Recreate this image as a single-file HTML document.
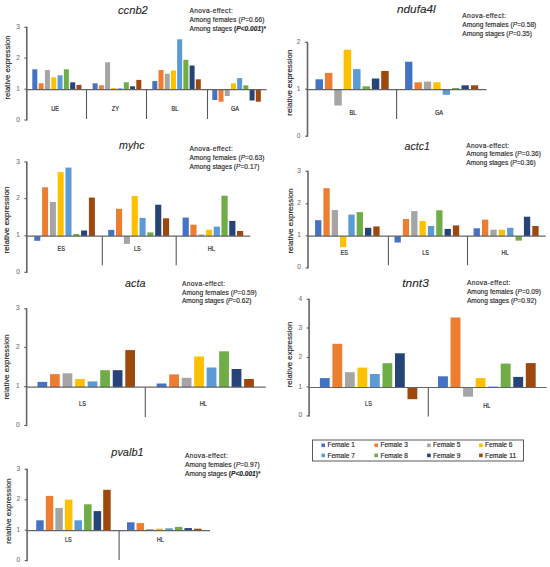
<!DOCTYPE html>
<html><head><meta charset="utf-8"><style>
html,body{margin:0;padding:0;background:#fff;}
svg{display:block;font-family:"Liberation Sans",sans-serif;}
</style></head><body>
<svg width="550" height="567" viewBox="0 0 550 567">
<rect width="550" height="567" fill="#fff"/>
<line x1="26.80" y1="26.70" x2="26.80" y2="120.60" stroke="#666666" stroke-width="1.6"/>
<line x1="24.40" y1="120.00" x2="26.80" y2="120.00" stroke="#666666" stroke-width="1.2"/>
<text x="19.80" y="121.50" font-size="6.6" fill="#7a7a7a" text-anchor="end"  stroke="#7a7a7a" stroke-width="0.12">0</text>
<line x1="24.40" y1="89.20" x2="26.80" y2="89.20" stroke="#666666" stroke-width="1.2"/>
<text x="19.80" y="90.70" font-size="6.6" fill="#7a7a7a" text-anchor="end"  stroke="#7a7a7a" stroke-width="0.12">1</text>
<line x1="24.40" y1="58.10" x2="26.80" y2="58.10" stroke="#666666" stroke-width="1.2"/>
<text x="19.80" y="59.60" font-size="6.6" fill="#7a7a7a" text-anchor="end"  stroke="#7a7a7a" stroke-width="0.12">2</text>
<line x1="24.40" y1="27.30" x2="26.80" y2="27.30" stroke="#666666" stroke-width="1.2"/>
<text x="19.80" y="28.80" font-size="6.6" fill="#7a7a7a" text-anchor="end"  stroke="#7a7a7a" stroke-width="0.12">3</text>
<rect x="32.30" y="69.30" width="5.00" height="20.30" fill="#4472C4"/>
<rect x="38.61" y="83.30" width="5.00" height="6.30" fill="#ED7D31"/>
<rect x="44.93" y="70.00" width="5.00" height="19.60" fill="#A5A5A5"/>
<rect x="51.24" y="77.30" width="5.00" height="12.30" fill="#FFC000"/>
<rect x="57.56" y="75.30" width="5.00" height="14.30" fill="#5B9BD5"/>
<rect x="63.87" y="69.30" width="5.00" height="20.30" fill="#70AD47"/>
<rect x="70.19" y="82.30" width="5.00" height="7.30" fill="#264478"/>
<rect x="76.50" y="84.90" width="5.00" height="4.70" fill="#9E480E"/>
<rect x="92.60" y="83.30" width="5.00" height="6.30" fill="#4472C4"/>
<rect x="98.84" y="85.30" width="5.00" height="4.30" fill="#ED7D31"/>
<rect x="105.09" y="62.30" width="5.00" height="27.30" fill="#A5A5A5"/>
<rect x="111.33" y="88.00" width="5.00" height="1.60" fill="#FFC000"/>
<rect x="117.57" y="88.30" width="5.00" height="1.30" fill="#5B9BD5"/>
<rect x="123.81" y="82.30" width="5.00" height="7.30" fill="#70AD47"/>
<rect x="130.06" y="86.30" width="5.00" height="3.30" fill="#264478"/>
<rect x="136.30" y="79.90" width="5.00" height="9.70" fill="#9E480E"/>
<rect x="152.30" y="81.10" width="5.00" height="8.50" fill="#4472C4"/>
<rect x="158.51" y="70.00" width="5.00" height="19.60" fill="#ED7D31"/>
<rect x="164.73" y="73.80" width="5.00" height="15.80" fill="#A5A5A5"/>
<rect x="170.94" y="70.50" width="5.00" height="19.10" fill="#FFC000"/>
<rect x="177.16" y="39.30" width="5.00" height="50.30" fill="#5B9BD5"/>
<rect x="183.37" y="59.80" width="5.00" height="29.80" fill="#70AD47"/>
<rect x="189.59" y="65.50" width="5.00" height="24.10" fill="#264478"/>
<rect x="195.80" y="79.30" width="5.00" height="10.30" fill="#9E480E"/>
<rect x="212.30" y="89.60" width="5.00" height="10.40" fill="#4472C4"/>
<rect x="218.51" y="89.60" width="5.00" height="12.10" fill="#ED7D31"/>
<rect x="224.73" y="89.60" width="5.00" height="6.40" fill="#A5A5A5"/>
<rect x="230.94" y="83.30" width="5.00" height="6.30" fill="#FFC000"/>
<rect x="237.16" y="78.10" width="5.00" height="11.50" fill="#5B9BD5"/>
<rect x="243.37" y="85.30" width="5.00" height="4.30" fill="#70AD47"/>
<rect x="249.59" y="89.60" width="5.00" height="10.90" fill="#264478"/>
<rect x="255.80" y="89.60" width="5.00" height="12.10" fill="#9E480E"/>
<line x1="26.80" y1="89.60" x2="266.50" y2="89.60" stroke="#646464" stroke-width="1.2"/>
<line x1="86.50" y1="89.60" x2="86.50" y2="119.00" stroke="#595959" stroke-width="1.1"/>
<line x1="146.50" y1="89.60" x2="146.50" y2="119.00" stroke="#595959" stroke-width="1.1"/>
<line x1="207.50" y1="89.60" x2="207.50" y2="119.00" stroke="#595959" stroke-width="1.1"/>
<text x="55.00" y="110.90" font-size="6.8" fill="#2a2a2a" text-anchor="middle"  textLength="7.75" lengthAdjust="spacingAndGlyphs" stroke="#2a2a2a" stroke-width="0.2">UE</text>
<text x="115.30" y="110.90" font-size="6.8" fill="#2a2a2a" text-anchor="middle"  textLength="7.13" lengthAdjust="spacingAndGlyphs" stroke="#2a2a2a" stroke-width="0.2">ZY</text>
<text x="175.00" y="110.90" font-size="6.8" fill="#2a2a2a" text-anchor="middle"  textLength="6.82" lengthAdjust="spacingAndGlyphs" stroke="#2a2a2a" stroke-width="0.2">BL</text>
<text x="235.00" y="110.90" font-size="6.8" fill="#2a2a2a" text-anchor="middle"  textLength="8.06" lengthAdjust="spacingAndGlyphs" stroke="#2a2a2a" stroke-width="0.2">GA</text>
<text x="118.00" y="14.30" font-size="11.5" fill="#262626" text-anchor="start" font-style="italic" textLength="29.8" lengthAdjust="spacingAndGlyphs" stroke="#262626" stroke-width="0.1">ccnb2</text>
<text x="189.50" y="12.80" font-size="6.6" fill="#262626" text-anchor="start"  textLength="43.3" lengthAdjust="spacing" stroke="#262626" stroke-width="0.14">Anova-effect:</text>
<text x="189.50" y="21.70" font-size="6.6" fill="#262626" text-anchor="start"  textLength="75" lengthAdjust="spacing" stroke="#262626" stroke-width="0.14">Among females (<tspan font-style="italic">P</tspan>=0.66)</text>
<text x="189.50" y="30.60" font-size="6.6" fill="#262626" text-anchor="start"  textLength="76.5" lengthAdjust="spacing" stroke="#262626" stroke-width="0.14">Among stages <tspan font-weight="bold">(<tspan font-style="italic">P&lt;0.001</tspan>)</tspan>*</text>
<text x="0" y="0" font-size="6.9" fill="#262626" stroke="#262626" stroke-width="0.14" text-anchor="middle" textLength="64" lengthAdjust="spacingAndGlyphs" transform="translate(10.200000000000001,67.5) rotate(-90)">relative expression</text>
<line x1="307.50" y1="41.80" x2="307.50" y2="136.80" stroke="#666666" stroke-width="1.6"/>
<line x1="305.10" y1="136.20" x2="307.50" y2="136.20" stroke="#666666" stroke-width="1.2"/>
<text x="300.50" y="137.70" font-size="6.6" fill="#7a7a7a" text-anchor="end"  stroke="#7a7a7a" stroke-width="0.12">0</text>
<line x1="305.10" y1="89.20" x2="307.50" y2="89.20" stroke="#666666" stroke-width="1.2"/>
<text x="300.50" y="90.70" font-size="6.6" fill="#7a7a7a" text-anchor="end"  stroke="#7a7a7a" stroke-width="0.12">1</text>
<line x1="305.10" y1="42.40" x2="307.50" y2="42.40" stroke="#666666" stroke-width="1.2"/>
<text x="300.50" y="43.90" font-size="6.6" fill="#7a7a7a" text-anchor="end"  stroke="#7a7a7a" stroke-width="0.12">2</text>
<rect x="315.50" y="79.30" width="7.50" height="10.30" fill="#4472C4"/>
<rect x="324.89" y="72.90" width="7.50" height="16.70" fill="#ED7D31"/>
<rect x="334.27" y="89.60" width="7.50" height="15.90" fill="#A5A5A5"/>
<rect x="343.66" y="49.70" width="7.50" height="39.90" fill="#FFC000"/>
<rect x="353.04" y="69.10" width="7.50" height="20.50" fill="#5B9BD5"/>
<rect x="362.43" y="86.30" width="7.50" height="3.30" fill="#70AD47"/>
<rect x="371.81" y="78.50" width="7.50" height="11.10" fill="#264478"/>
<rect x="381.20" y="71.00" width="7.50" height="18.60" fill="#9E480E"/>
<rect x="405.10" y="61.70" width="7.30" height="27.90" fill="#4472C4"/>
<rect x="414.50" y="82.30" width="7.30" height="7.30" fill="#ED7D31"/>
<rect x="423.90" y="81.60" width="7.30" height="8.00" fill="#A5A5A5"/>
<rect x="433.30" y="82.30" width="7.30" height="7.30" fill="#FFC000"/>
<rect x="442.70" y="89.60" width="7.30" height="5.20" fill="#5B9BD5"/>
<rect x="452.10" y="88.00" width="7.30" height="1.60" fill="#70AD47"/>
<rect x="461.50" y="85.30" width="7.30" height="4.30" fill="#264478"/>
<rect x="470.90" y="85.30" width="7.30" height="4.30" fill="#9E480E"/>
<line x1="307.50" y1="89.60" x2="486.50" y2="89.60" stroke="#646464" stroke-width="1.2"/>
<line x1="396.60" y1="89.60" x2="396.60" y2="119.00" stroke="#595959" stroke-width="1.1"/>
<text x="353.00" y="114.60" font-size="6.8" fill="#2a2a2a" text-anchor="middle"  textLength="6.82" lengthAdjust="spacingAndGlyphs" stroke="#2a2a2a" stroke-width="0.2">BL</text>
<text x="439.00" y="114.60" font-size="6.8" fill="#2a2a2a" text-anchor="middle"  textLength="8.06" lengthAdjust="spacingAndGlyphs" stroke="#2a2a2a" stroke-width="0.2">GA</text>
<text x="397.00" y="13.00" font-size="11.5" fill="#262626" text-anchor="start" font-style="italic" textLength="38.6" lengthAdjust="spacingAndGlyphs" stroke="#262626" stroke-width="0.1">ndufa4l</text>
<text x="462.30" y="17.50" font-size="6.6" fill="#262626" text-anchor="start"  textLength="43.7" lengthAdjust="spacing" stroke="#262626" stroke-width="0.14">Anova-effect:</text>
<text x="462.30" y="26.50" font-size="6.6" fill="#262626" text-anchor="start"  textLength="74" lengthAdjust="spacing" stroke="#262626" stroke-width="0.14">Among females (<tspan font-style="italic">P</tspan>=0.58)</text>
<text x="462.30" y="35.50" font-size="6.6" fill="#262626" text-anchor="start"  textLength="69.6" lengthAdjust="spacing" stroke="#262626" stroke-width="0.14">Among stages (<tspan font-style="italic">P</tspan>=0.35)</text>
<text x="0" y="0" font-size="6.9" fill="#262626" stroke="#262626" stroke-width="0.14" text-anchor="middle" textLength="66" lengthAdjust="spacingAndGlyphs" transform="translate(291.6,82.7) rotate(-90)">relative expression</text>
<line x1="26.80" y1="161.40" x2="26.80" y2="272.90" stroke="#666666" stroke-width="1.6"/>
<line x1="24.40" y1="272.30" x2="26.80" y2="272.30" stroke="#666666" stroke-width="1.2"/>
<text x="19.80" y="273.80" font-size="6.6" fill="#7a7a7a" text-anchor="end"  stroke="#7a7a7a" stroke-width="0.12">0</text>
<line x1="24.40" y1="235.80" x2="26.80" y2="235.80" stroke="#666666" stroke-width="1.2"/>
<text x="19.80" y="237.30" font-size="6.6" fill="#7a7a7a" text-anchor="end"  stroke="#7a7a7a" stroke-width="0.12">1</text>
<line x1="24.40" y1="198.60" x2="26.80" y2="198.60" stroke="#666666" stroke-width="1.2"/>
<text x="19.80" y="200.10" font-size="6.6" fill="#7a7a7a" text-anchor="end"  stroke="#7a7a7a" stroke-width="0.12">2</text>
<line x1="24.40" y1="162.00" x2="26.80" y2="162.00" stroke="#666666" stroke-width="1.2"/>
<text x="19.80" y="163.50" font-size="6.6" fill="#7a7a7a" text-anchor="end"  stroke="#7a7a7a" stroke-width="0.12">3</text>
<rect x="34.30" y="236.10" width="6.00" height="4.70" fill="#4472C4"/>
<rect x="42.10" y="187.30" width="6.00" height="48.80" fill="#ED7D31"/>
<rect x="49.90" y="202.00" width="6.00" height="34.10" fill="#A5A5A5"/>
<rect x="57.70" y="172.10" width="6.00" height="64.00" fill="#FFC000"/>
<rect x="65.50" y="167.60" width="6.00" height="68.50" fill="#5B9BD5"/>
<rect x="73.30" y="234.00" width="6.00" height="2.10" fill="#70AD47"/>
<rect x="81.10" y="230.50" width="6.00" height="5.60" fill="#264478"/>
<rect x="88.90" y="197.60" width="6.00" height="38.50" fill="#9E480E"/>
<rect x="108.20" y="229.90" width="6.10" height="6.20" fill="#4472C4"/>
<rect x="116.03" y="208.80" width="6.10" height="27.30" fill="#ED7D31"/>
<rect x="123.86" y="236.10" width="6.10" height="7.80" fill="#A5A5A5"/>
<rect x="131.69" y="195.90" width="6.10" height="40.20" fill="#FFC000"/>
<rect x="139.51" y="217.90" width="6.10" height="18.20" fill="#5B9BD5"/>
<rect x="147.34" y="232.40" width="6.10" height="3.70" fill="#70AD47"/>
<rect x="155.17" y="204.70" width="6.10" height="31.40" fill="#264478"/>
<rect x="163.00" y="218.30" width="6.10" height="17.80" fill="#9E480E"/>
<rect x="182.60" y="217.60" width="6.20" height="18.50" fill="#4472C4"/>
<rect x="190.37" y="224.70" width="6.20" height="11.40" fill="#ED7D31"/>
<rect x="198.14" y="234.50" width="6.20" height="1.60" fill="#A5A5A5"/>
<rect x="205.91" y="229.70" width="6.20" height="6.40" fill="#FFC000"/>
<rect x="213.69" y="226.60" width="6.20" height="9.50" fill="#5B9BD5"/>
<rect x="221.46" y="195.70" width="6.20" height="40.40" fill="#70AD47"/>
<rect x="229.23" y="220.90" width="6.20" height="15.20" fill="#264478"/>
<rect x="237.00" y="231.00" width="6.20" height="5.10" fill="#9E480E"/>
<line x1="26.80" y1="236.10" x2="250.20" y2="236.10" stroke="#646464" stroke-width="1.2"/>
<line x1="102.30" y1="236.10" x2="102.30" y2="265.30" stroke="#595959" stroke-width="1.1"/>
<line x1="176.20" y1="236.10" x2="176.20" y2="265.30" stroke="#595959" stroke-width="1.1"/>
<text x="61.20" y="251.40" font-size="6.8" fill="#2a2a2a" text-anchor="middle"  textLength="7.44" lengthAdjust="spacingAndGlyphs" stroke="#2a2a2a" stroke-width="0.2">ES</text>
<text x="137.40" y="251.40" font-size="6.8" fill="#2a2a2a" text-anchor="middle"  textLength="6.82" lengthAdjust="spacingAndGlyphs" stroke="#2a2a2a" stroke-width="0.2">LS</text>
<text x="211.30" y="251.40" font-size="6.8" fill="#2a2a2a" text-anchor="middle"  textLength="7.13" lengthAdjust="spacingAndGlyphs" stroke="#2a2a2a" stroke-width="0.2">HL</text>
<text x="119.00" y="148.70" font-size="11.5" fill="#262626" text-anchor="start" font-style="italic" textLength="25.5" lengthAdjust="spacingAndGlyphs" stroke="#262626" stroke-width="0.1">myhc</text>
<text x="189.50" y="151.10" font-size="6.6" fill="#262626" text-anchor="start"  textLength="43.3" lengthAdjust="spacing" stroke="#262626" stroke-width="0.14">Anova-effect:</text>
<text x="189.50" y="159.90" font-size="6.6" fill="#262626" text-anchor="start"  textLength="75" lengthAdjust="spacing" stroke="#262626" stroke-width="0.14">Among females (<tspan font-style="italic">P</tspan>=0.63)</text>
<text x="189.50" y="168.90" font-size="6.6" fill="#262626" text-anchor="start"  textLength="70" lengthAdjust="spacing" stroke="#262626" stroke-width="0.14">Among stages (<tspan font-style="italic">P</tspan>=0.17)</text>
<text x="0" y="0" font-size="6.9" fill="#262626" stroke="#262626" stroke-width="0.14" text-anchor="middle" textLength="66.8" lengthAdjust="spacingAndGlyphs" transform="translate(9.3,220) rotate(-90)">relative expression</text>
<line x1="308.00" y1="170.80" x2="308.00" y2="268.50" stroke="#666666" stroke-width="1.6"/>
<line x1="305.60" y1="267.90" x2="308.00" y2="267.90" stroke="#666666" stroke-width="1.2"/>
<text x="301.00" y="269.40" font-size="6.6" fill="#7a7a7a" text-anchor="end"  stroke="#7a7a7a" stroke-width="0.12">0</text>
<line x1="305.60" y1="235.80" x2="308.00" y2="235.80" stroke="#666666" stroke-width="1.2"/>
<text x="301.00" y="237.30" font-size="6.6" fill="#7a7a7a" text-anchor="end"  stroke="#7a7a7a" stroke-width="0.12">1</text>
<line x1="305.60" y1="203.80" x2="308.00" y2="203.80" stroke="#666666" stroke-width="1.2"/>
<text x="301.00" y="205.30" font-size="6.6" fill="#7a7a7a" text-anchor="end"  stroke="#7a7a7a" stroke-width="0.12">2</text>
<line x1="305.60" y1="171.40" x2="308.00" y2="171.40" stroke="#666666" stroke-width="1.2"/>
<text x="301.00" y="172.90" font-size="6.6" fill="#7a7a7a" text-anchor="end"  stroke="#7a7a7a" stroke-width="0.12">3</text>
<rect x="315.10" y="220.20" width="6.30" height="15.90" fill="#4472C4"/>
<rect x="323.41" y="188.20" width="6.30" height="47.90" fill="#ED7D31"/>
<rect x="331.73" y="210.10" width="6.30" height="26.00" fill="#A5A5A5"/>
<rect x="340.04" y="236.10" width="6.30" height="11.10" fill="#FFC000"/>
<rect x="348.36" y="214.60" width="6.30" height="21.50" fill="#5B9BD5"/>
<rect x="356.67" y="212.10" width="6.30" height="24.00" fill="#70AD47"/>
<rect x="364.99" y="227.80" width="6.30" height="8.30" fill="#264478"/>
<rect x="373.30" y="226.40" width="6.30" height="9.70" fill="#9E480E"/>
<rect x="394.50" y="236.10" width="6.30" height="6.40" fill="#4472C4"/>
<rect x="402.84" y="219.00" width="6.30" height="17.10" fill="#ED7D31"/>
<rect x="411.19" y="211.10" width="6.30" height="25.00" fill="#A5A5A5"/>
<rect x="419.53" y="221.00" width="6.30" height="15.10" fill="#FFC000"/>
<rect x="427.87" y="226.00" width="6.30" height="10.10" fill="#5B9BD5"/>
<rect x="436.21" y="210.30" width="6.30" height="25.80" fill="#70AD47"/>
<rect x="444.56" y="228.90" width="6.30" height="7.20" fill="#264478"/>
<rect x="452.90" y="225.40" width="6.30" height="10.70" fill="#9E480E"/>
<rect x="473.60" y="228.30" width="6.30" height="7.80" fill="#4472C4"/>
<rect x="481.99" y="219.60" width="6.30" height="16.50" fill="#ED7D31"/>
<rect x="490.37" y="229.70" width="6.30" height="6.40" fill="#A5A5A5"/>
<rect x="498.76" y="229.70" width="6.30" height="6.40" fill="#FFC000"/>
<rect x="507.14" y="227.80" width="6.30" height="8.30" fill="#5B9BD5"/>
<rect x="515.53" y="236.10" width="6.30" height="4.50" fill="#70AD47"/>
<rect x="523.91" y="216.70" width="6.30" height="19.40" fill="#264478"/>
<rect x="532.30" y="226.00" width="6.30" height="10.10" fill="#9E480E"/>
<line x1="308.00" y1="236.10" x2="545.70" y2="236.10" stroke="#646464" stroke-width="1.2"/>
<line x1="388.40" y1="236.10" x2="388.40" y2="265.30" stroke="#595959" stroke-width="1.1"/>
<line x1="467.50" y1="236.10" x2="467.50" y2="265.30" stroke="#595959" stroke-width="1.1"/>
<text x="344.20" y="255.30" font-size="6.8" fill="#2a2a2a" text-anchor="middle"  textLength="7.44" lengthAdjust="spacingAndGlyphs" stroke="#2a2a2a" stroke-width="0.2">ES</text>
<text x="425.60" y="255.30" font-size="6.8" fill="#2a2a2a" text-anchor="middle"  textLength="6.82" lengthAdjust="spacingAndGlyphs" stroke="#2a2a2a" stroke-width="0.2">LS</text>
<text x="505.00" y="255.30" font-size="6.8" fill="#2a2a2a" text-anchor="middle"  textLength="7.13" lengthAdjust="spacingAndGlyphs" stroke="#2a2a2a" stroke-width="0.2">HL</text>
<text x="404.50" y="149.50" font-size="11.5" fill="#262626" text-anchor="start" font-style="italic" textLength="25.4" lengthAdjust="spacingAndGlyphs" stroke="#262626" stroke-width="0.1">actc1</text>
<text x="466.20" y="147.70" font-size="6.6" fill="#262626" text-anchor="start"  textLength="43.1" lengthAdjust="spacing" stroke="#262626" stroke-width="0.14">Anova-effect:</text>
<text x="466.20" y="156.40" font-size="6.6" fill="#262626" text-anchor="start"  textLength="74.8" lengthAdjust="spacing" stroke="#262626" stroke-width="0.14">Among females (<tspan font-style="italic">P</tspan>=0.36)</text>
<text x="466.20" y="165.20" font-size="6.6" fill="#262626" text-anchor="start"  textLength="69.4" lengthAdjust="spacing" stroke="#262626" stroke-width="0.14">Among stages (<tspan font-style="italic">P</tspan>=0.36)</text>
<text x="0" y="0" font-size="6.9" fill="#262626" stroke="#262626" stroke-width="0.14" text-anchor="middle" textLength="65.2" lengthAdjust="spacingAndGlyphs" transform="translate(292.8,221) rotate(-90)">relative expression</text>
<line x1="26.60" y1="308.20" x2="26.60" y2="426.10" stroke="#666666" stroke-width="1.6"/>
<line x1="24.20" y1="425.50" x2="26.60" y2="425.50" stroke="#666666" stroke-width="1.2"/>
<text x="19.60" y="427.00" font-size="6.6" fill="#7a7a7a" text-anchor="end"  stroke="#7a7a7a" stroke-width="0.12">0</text>
<line x1="24.20" y1="386.70" x2="26.60" y2="386.70" stroke="#666666" stroke-width="1.2"/>
<text x="19.60" y="388.20" font-size="6.6" fill="#7a7a7a" text-anchor="end"  stroke="#7a7a7a" stroke-width="0.12">1</text>
<line x1="24.20" y1="347.50" x2="26.60" y2="347.50" stroke="#666666" stroke-width="1.2"/>
<text x="19.60" y="349.00" font-size="6.6" fill="#7a7a7a" text-anchor="end"  stroke="#7a7a7a" stroke-width="0.12">2</text>
<line x1="24.20" y1="308.80" x2="26.60" y2="308.80" stroke="#666666" stroke-width="1.2"/>
<text x="19.60" y="310.30" font-size="6.6" fill="#7a7a7a" text-anchor="end"  stroke="#7a7a7a" stroke-width="0.12">3</text>
<rect x="37.50" y="381.90" width="9.70" height="5.30" fill="#4472C4"/>
<rect x="50.04" y="374.10" width="9.70" height="13.10" fill="#ED7D31"/>
<rect x="62.59" y="373.30" width="9.70" height="13.90" fill="#A5A5A5"/>
<rect x="75.13" y="379.10" width="9.70" height="8.10" fill="#FFC000"/>
<rect x="87.67" y="381.40" width="9.70" height="5.80" fill="#5B9BD5"/>
<rect x="100.21" y="370.20" width="9.70" height="17.00" fill="#70AD47"/>
<rect x="112.76" y="370.20" width="9.70" height="17.00" fill="#264478"/>
<rect x="125.30" y="350.10" width="9.70" height="37.10" fill="#9E480E"/>
<rect x="156.70" y="383.50" width="9.80" height="3.70" fill="#4472C4"/>
<rect x="169.19" y="374.40" width="9.80" height="12.80" fill="#ED7D31"/>
<rect x="181.67" y="377.80" width="9.80" height="9.40" fill="#A5A5A5"/>
<rect x="194.16" y="356.50" width="9.80" height="30.70" fill="#FFC000"/>
<rect x="206.64" y="367.50" width="9.80" height="19.70" fill="#5B9BD5"/>
<rect x="219.13" y="351.30" width="9.80" height="35.90" fill="#70AD47"/>
<rect x="231.61" y="369.00" width="9.80" height="18.20" fill="#264478"/>
<rect x="244.10" y="379.00" width="9.80" height="8.20" fill="#9E480E"/>
<line x1="26.60" y1="387.20" x2="265.70" y2="387.20" stroke="#646464" stroke-width="1.2"/>
<line x1="145.30" y1="387.20" x2="145.30" y2="417.00" stroke="#595959" stroke-width="1.1"/>
<text x="82.50" y="406.00" font-size="6.8" fill="#2a2a2a" text-anchor="middle"  textLength="6.82" lengthAdjust="spacingAndGlyphs" stroke="#2a2a2a" stroke-width="0.2">LS</text>
<text x="203.30" y="406.00" font-size="6.8" fill="#2a2a2a" text-anchor="middle"  textLength="7.13" lengthAdjust="spacingAndGlyphs" stroke="#2a2a2a" stroke-width="0.2">HL</text>
<text x="125.00" y="286.50" font-size="11.5" fill="#262626" text-anchor="start" font-style="italic" textLength="20.4" lengthAdjust="spacingAndGlyphs" stroke="#262626" stroke-width="0.1">acta</text>
<text x="181.90" y="285.60" font-size="6.6" fill="#262626" text-anchor="start"  textLength="43.2" lengthAdjust="spacing" stroke="#262626" stroke-width="0.14">Anova-effect:</text>
<text x="181.90" y="294.60" font-size="6.6" fill="#262626" text-anchor="start"  textLength="74.9" lengthAdjust="spacing" stroke="#262626" stroke-width="0.14">Among females (<tspan font-style="italic">P</tspan>=0.59)</text>
<text x="181.90" y="303.10" font-size="6.6" fill="#262626" text-anchor="start"  textLength="69.5" lengthAdjust="spacing" stroke="#262626" stroke-width="0.14">Among stages (<tspan font-style="italic">P</tspan>=0.62)</text>
<text x="0" y="0" font-size="6.9" fill="#262626" stroke="#262626" stroke-width="0.14" text-anchor="middle" textLength="65.2" lengthAdjust="spacingAndGlyphs" transform="translate(9.0,367) rotate(-90)">relative expression</text>
<line x1="309.10" y1="298.70" x2="309.10" y2="416.50" stroke="#666666" stroke-width="1.6"/>
<line x1="306.70" y1="415.90" x2="309.10" y2="415.90" stroke="#666666" stroke-width="1.2"/>
<text x="302.10" y="417.40" font-size="6.6" fill="#7a7a7a" text-anchor="end"  stroke="#7a7a7a" stroke-width="0.12">0</text>
<line x1="306.70" y1="387.00" x2="309.10" y2="387.00" stroke="#666666" stroke-width="1.2"/>
<text x="302.10" y="388.50" font-size="6.6" fill="#7a7a7a" text-anchor="end"  stroke="#7a7a7a" stroke-width="0.12">1</text>
<line x1="306.70" y1="357.50" x2="309.10" y2="357.50" stroke="#666666" stroke-width="1.2"/>
<text x="302.10" y="359.00" font-size="6.6" fill="#7a7a7a" text-anchor="end"  stroke="#7a7a7a" stroke-width="0.12">2</text>
<line x1="306.70" y1="328.00" x2="309.10" y2="328.00" stroke="#666666" stroke-width="1.2"/>
<text x="302.10" y="329.50" font-size="6.6" fill="#7a7a7a" text-anchor="end"  stroke="#7a7a7a" stroke-width="0.12">3</text>
<line x1="306.70" y1="299.30" x2="309.10" y2="299.30" stroke="#666666" stroke-width="1.2"/>
<text x="302.10" y="300.80" font-size="6.6" fill="#7a7a7a" text-anchor="end"  stroke="#7a7a7a" stroke-width="0.12">4</text>
<rect x="319.90" y="378.10" width="9.80" height="9.40" fill="#4472C4"/>
<rect x="332.41" y="343.80" width="9.80" height="43.70" fill="#ED7D31"/>
<rect x="344.93" y="372.20" width="9.80" height="15.30" fill="#A5A5A5"/>
<rect x="357.44" y="367.60" width="9.80" height="19.90" fill="#FFC000"/>
<rect x="369.96" y="374.00" width="9.80" height="13.50" fill="#5B9BD5"/>
<rect x="382.47" y="363.20" width="9.80" height="24.30" fill="#70AD47"/>
<rect x="394.99" y="353.30" width="9.80" height="34.20" fill="#264478"/>
<rect x="407.50" y="387.50" width="9.80" height="11.70" fill="#9E480E"/>
<rect x="438.00" y="376.30" width="9.90" height="11.20" fill="#4472C4"/>
<rect x="450.54" y="317.50" width="9.90" height="70.00" fill="#ED7D31"/>
<rect x="463.09" y="387.50" width="9.90" height="9.20" fill="#A5A5A5"/>
<rect x="475.63" y="378.10" width="9.90" height="9.40" fill="#FFC000"/>
<rect x="488.17" y="386.50" width="9.90" height="1.00" fill="#5B9BD5"/>
<rect x="500.71" y="363.60" width="9.90" height="23.90" fill="#70AD47"/>
<rect x="513.26" y="376.90" width="9.90" height="10.60" fill="#264478"/>
<rect x="525.80" y="363.10" width="9.90" height="24.40" fill="#9E480E"/>
<line x1="309.10" y1="387.50" x2="546.70" y2="387.50" stroke="#646464" stroke-width="1.2"/>
<line x1="428.30" y1="387.50" x2="428.30" y2="416.60" stroke="#595959" stroke-width="1.1"/>
<text x="368.50" y="406.40" font-size="6.8" fill="#2a2a2a" text-anchor="middle"  textLength="6.82" lengthAdjust="spacingAndGlyphs" stroke="#2a2a2a" stroke-width="0.2">LS</text>
<text x="486.90" y="407.90" font-size="6.8" fill="#2a2a2a" text-anchor="middle"  textLength="7.13" lengthAdjust="spacingAndGlyphs" stroke="#2a2a2a" stroke-width="0.2">HL</text>
<text x="402.30" y="287.00" font-size="11.5" fill="#262626" text-anchor="start" font-style="italic" textLength="26.5" lengthAdjust="spacingAndGlyphs" stroke="#262626" stroke-width="0.1">tnnt3</text>
<text x="466.90" y="285.40" font-size="6.6" fill="#262626" text-anchor="start"  textLength="43.5" lengthAdjust="spacing" stroke="#262626" stroke-width="0.14">Anova-effect:</text>
<text x="466.90" y="294.10" font-size="6.6" fill="#262626" text-anchor="start"  textLength="74.1" lengthAdjust="spacing" stroke="#262626" stroke-width="0.14">Among females (<tspan font-style="italic">P</tspan>=0.09)</text>
<text x="466.90" y="302.80" font-size="6.6" fill="#262626" text-anchor="start"  textLength="69.5" lengthAdjust="spacing" stroke="#262626" stroke-width="0.14">Among stages (<tspan font-style="italic">P</tspan>=0.92)</text>
<text x="0" y="0" font-size="6.9" fill="#262626" stroke="#262626" stroke-width="0.14" text-anchor="middle" textLength="65.6" lengthAdjust="spacingAndGlyphs" transform="translate(292.0,354.5) rotate(-90)">relative expression</text>
<line x1="27.10" y1="468.70" x2="27.10" y2="561.20" stroke="#666666" stroke-width="1.6"/>
<line x1="24.70" y1="560.60" x2="27.10" y2="560.60" stroke="#666666" stroke-width="1.2"/>
<text x="20.10" y="562.10" font-size="6.6" fill="#7a7a7a" text-anchor="end"  stroke="#7a7a7a" stroke-width="0.12">0</text>
<line x1="24.70" y1="530.20" x2="27.10" y2="530.20" stroke="#666666" stroke-width="1.2"/>
<text x="20.10" y="531.70" font-size="6.6" fill="#7a7a7a" text-anchor="end"  stroke="#7a7a7a" stroke-width="0.12">1</text>
<line x1="24.70" y1="499.70" x2="27.10" y2="499.70" stroke="#666666" stroke-width="1.2"/>
<text x="20.10" y="501.20" font-size="6.6" fill="#7a7a7a" text-anchor="end"  stroke="#7a7a7a" stroke-width="0.12">2</text>
<line x1="24.70" y1="469.30" x2="27.10" y2="469.30" stroke="#666666" stroke-width="1.2"/>
<text x="20.10" y="470.80" font-size="6.6" fill="#7a7a7a" text-anchor="end"  stroke="#7a7a7a" stroke-width="0.12">3</text>
<rect x="36.20" y="520.30" width="7.50" height="10.40" fill="#4472C4"/>
<rect x="45.77" y="495.90" width="7.50" height="34.80" fill="#ED7D31"/>
<rect x="55.34" y="507.90" width="7.50" height="22.80" fill="#A5A5A5"/>
<rect x="64.91" y="499.60" width="7.50" height="31.10" fill="#FFC000"/>
<rect x="74.49" y="520.30" width="7.50" height="10.40" fill="#5B9BD5"/>
<rect x="84.06" y="504.30" width="7.50" height="26.40" fill="#70AD47"/>
<rect x="93.63" y="511.10" width="7.50" height="19.60" fill="#264478"/>
<rect x="103.20" y="489.80" width="7.50" height="40.90" fill="#9E480E"/>
<rect x="127.00" y="522.30" width="7.50" height="8.40" fill="#4472C4"/>
<rect x="136.57" y="523.10" width="7.50" height="7.60" fill="#ED7D31"/>
<rect x="146.14" y="529.00" width="7.50" height="1.70" fill="#A5A5A5"/>
<rect x="155.71" y="528.70" width="7.50" height="2.00" fill="#FFC000"/>
<rect x="165.29" y="528.30" width="7.50" height="2.40" fill="#5B9BD5"/>
<rect x="174.86" y="526.90" width="7.50" height="3.80" fill="#70AD47"/>
<rect x="184.43" y="528.10" width="7.50" height="2.60" fill="#264478"/>
<rect x="194.00" y="528.70" width="7.50" height="2.00" fill="#9E480E"/>
<line x1="27.10" y1="530.70" x2="210.00" y2="530.70" stroke="#646464" stroke-width="1.2"/>
<line x1="119.10" y1="530.70" x2="119.10" y2="560.00" stroke="#595959" stroke-width="1.1"/>
<text x="68.30" y="542.20" font-size="6.8" fill="#2a2a2a" text-anchor="middle"  textLength="6.82" lengthAdjust="spacingAndGlyphs" stroke="#2a2a2a" stroke-width="0.2">LS</text>
<text x="160.40" y="542.20" font-size="6.8" fill="#2a2a2a" text-anchor="middle"  textLength="7.13" lengthAdjust="spacingAndGlyphs" stroke="#2a2a2a" stroke-width="0.2">HL</text>
<text x="111.30" y="456.00" font-size="11.5" fill="#262626" text-anchor="start" font-style="italic" textLength="32.3" lengthAdjust="spacingAndGlyphs" stroke="#262626" stroke-width="0.1">pvalb1</text>
<text x="185.00" y="458.00" font-size="6.6" fill="#262626" text-anchor="start"  textLength="42.8" lengthAdjust="spacing" stroke="#262626" stroke-width="0.14">Anova-effect:</text>
<text x="185.00" y="467.00" font-size="6.6" fill="#262626" text-anchor="start"  textLength="74.6" lengthAdjust="spacing" stroke="#262626" stroke-width="0.14">Among females (<tspan font-style="italic">P</tspan>=0.97)</text>
<text x="185.00" y="476.10" font-size="6.6" fill="#262626" text-anchor="start"  textLength="75.5" lengthAdjust="spacing" stroke="#262626" stroke-width="0.14">Among stages <tspan font-weight="bold">(<tspan font-style="italic">P&lt;0.001</tspan>)</tspan>*</text>
<text x="0" y="0" font-size="6.9" fill="#262626" stroke="#262626" stroke-width="0.14" text-anchor="middle" textLength="65.3" lengthAdjust="spacingAndGlyphs" transform="translate(11.0,511) rotate(-90)">relative expression</text>
<rect x="312.5" y="440" width="211" height="21" fill="none" stroke="#595959" stroke-width="1"/>
<rect x="321.40" y="443.50" width="3.60" height="3.60" fill="#4472C4"/>
<text x="327.40" y="447.40" font-size="7" fill="#2a2a2a" text-anchor="start"  textLength="27.4" lengthAdjust="spacingAndGlyphs" stroke="#2a2a2a" stroke-width="0.18">Female 1</text>
<rect x="374.40" y="443.50" width="3.60" height="3.60" fill="#ED7D31"/>
<text x="380.40" y="447.40" font-size="7" fill="#2a2a2a" text-anchor="start"  textLength="27.4" lengthAdjust="spacingAndGlyphs" stroke="#2a2a2a" stroke-width="0.18">Female 3</text>
<rect x="427.10" y="443.50" width="3.60" height="3.60" fill="#A5A5A5"/>
<text x="433.10" y="447.40" font-size="7" fill="#2a2a2a" text-anchor="start"  textLength="27.4" lengthAdjust="spacingAndGlyphs" stroke="#2a2a2a" stroke-width="0.18">Female 5</text>
<rect x="479.10" y="443.50" width="3.60" height="3.60" fill="#FFC000"/>
<text x="485.10" y="447.40" font-size="7" fill="#2a2a2a" text-anchor="start"  textLength="27.4" lengthAdjust="spacingAndGlyphs" stroke="#2a2a2a" stroke-width="0.18">Female 6</text>
<rect x="321.40" y="453.60" width="3.60" height="3.60" fill="#5B9BD5"/>
<text x="327.40" y="457.50" font-size="7" fill="#2a2a2a" text-anchor="start"  textLength="27.4" lengthAdjust="spacingAndGlyphs" stroke="#2a2a2a" stroke-width="0.18">Female 7</text>
<rect x="374.40" y="453.60" width="3.60" height="3.60" fill="#70AD47"/>
<text x="380.40" y="457.50" font-size="7" fill="#2a2a2a" text-anchor="start"  textLength="27.4" lengthAdjust="spacingAndGlyphs" stroke="#2a2a2a" stroke-width="0.18">Female 8</text>
<rect x="427.10" y="453.60" width="3.60" height="3.60" fill="#264478"/>
<text x="433.10" y="457.50" font-size="7" fill="#2a2a2a" text-anchor="start"  textLength="27.4" lengthAdjust="spacingAndGlyphs" stroke="#2a2a2a" stroke-width="0.18">Female 9</text>
<rect x="479.10" y="453.60" width="3.60" height="3.60" fill="#9E480E"/>
<text x="485.10" y="457.50" font-size="7" fill="#2a2a2a" text-anchor="start"  textLength="31" lengthAdjust="spacingAndGlyphs" stroke="#2a2a2a" stroke-width="0.18">Female 11</text>
</svg>
</body></html>
